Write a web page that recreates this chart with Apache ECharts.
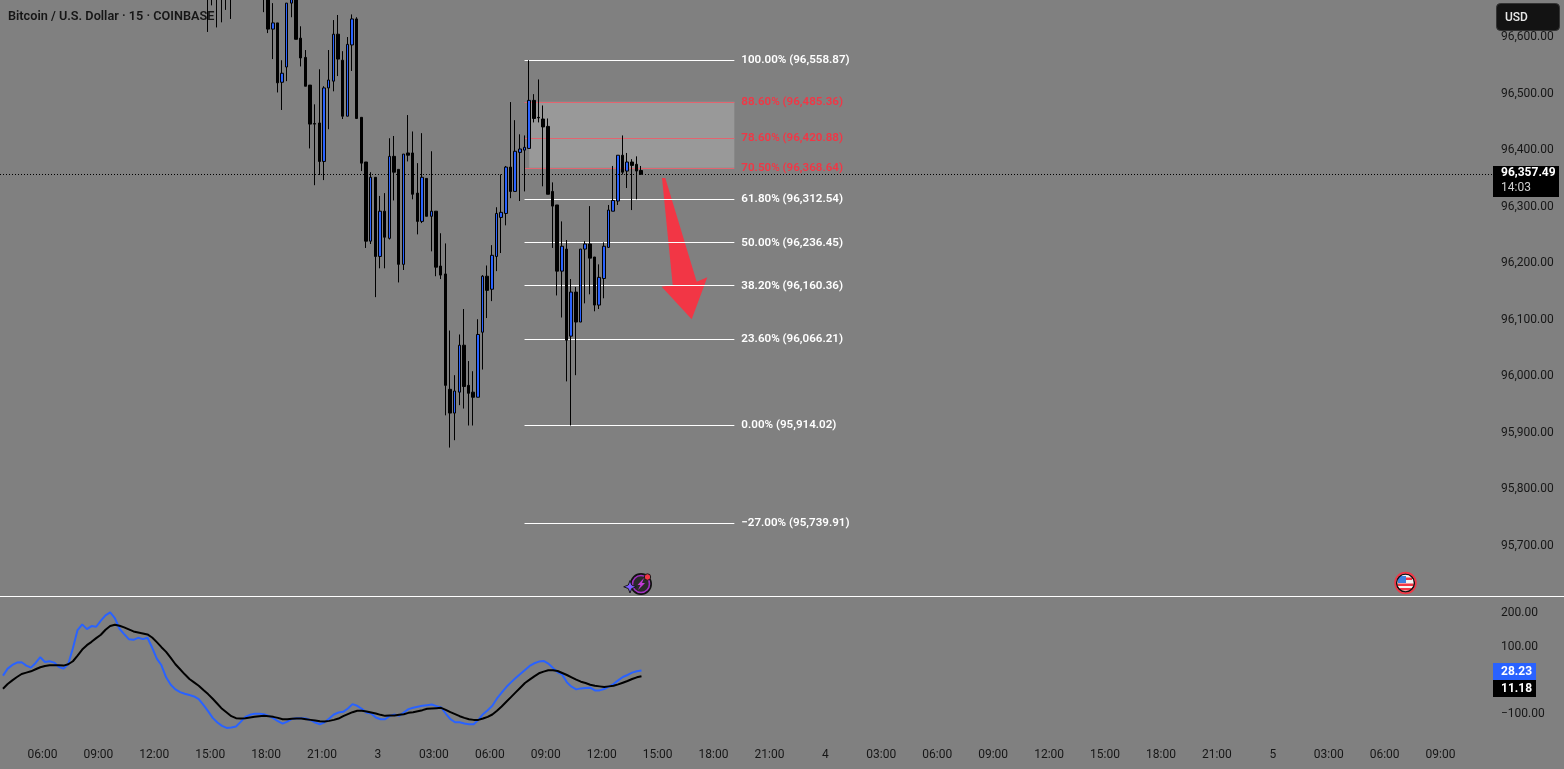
<!DOCTYPE html>
<html>
<head>
<meta charset="utf-8">
<title>Bitcoin / U.S. Dollar 15m</title>
<style>
  html, body { margin: 0; padding: 0; background: #808080; }
  #chart { width: 1564px; height: 769px; }
</style>
<script src="https://cdn.jsdelivr.net/npm/echarts@6/dist/echarts.min.js"></script>
</head>
<body>
<div id="chart"></div>
<script>
// Price candles, bar 44 onwards of the 15 minute series
const firstCandle = 44;
const opens = [96690,96690,96690,96690,96690,96690,96760,96760,96760,96760,96760,96760,
  96690,96690,96614,96625,96520,96547,96660,96700,96598,96564,96515,96447,96448,96380,96510,96522,96605,96559,
  96460,96586,96632,96458,96379,96239,96352,96212,96292,96244,96389,96366,96198,96395,96395,96324,96274,96350,
  96283,96292,96195,96181,95977,95935,95972,96055,95984,95972,95963,96078,96177,96154,96212,96281,96288,96370,
  96327,96396,96400,96403,96488,96458,96455,96442,96327,96303,96186,96225,96071,96149,96096,96225,96234,96211,
  96126,96173,96228,96292,96310,96391,96363,96379,96375,96364];
const closes = [96680,96680,96680,96680,96680,96680,96750,96750,96750,96750,96750,96750,
  96680,96614,96625,96519,96536,96660,96680,96596,96563,96513,96446,96446,96380,96510,96524,96605,96561,96460,
  96587,96632,96456,96377,96239,96352,96212,96292,96246,96389,96361,96198,96393,96391,96322,96274,96352,96283,
  96292,96193,96179,95984,95935,95974,96055,95982,95970,95963,96074,96177,96152,96214,96288,96290,96370,96327,
  96398,96402,96405,96488,96456,96457,96441,96322,96301,96186,96230,96064,96149,96096,96225,96234,96209,96126,
  96175,96230,96294,96311,96391,96361,96379,96373,96363,96357.49];
const lows = [96609,96656,96617,96626,96648,96632,96740,96740,96740,96740,96740,96740,
  96644,96607,96561,96502,96471,96522,96635,96596,96548,96513,96403,96338,96356,96347,96437,96504,96531,96455,
  96460,96540,96455,96363,96227,96234,96140,96191,96191,96242,96311,96166,96188,96380,96313,96251,96271,96283,
  96221,96177,96172,95931,95874,95887,95949,95943,95913,95913,95963,96012,96103,96133,96186,96218,96267,96315,
  96327,96310,96327,96403,96449,96449,96336,96322,96227,96143,96104,95991,95913,96002,96096,96129,96145,96115,
  96119,96138,96227,96292,96303,96357,96333,96294,96313,96356];
const highs = [96700,96700,96700,96700,96700,96700,96770,96770,96770,96770,96770,96770,
  96700,96700,96660,96625,96559,96660,96690,96710,96619,96577,96515,96481,96543,96513,96577,96630,96639,96575,
  96600,96640,96635,96458,96379,96361,96352,96319,96324,96421,96425,96366,96393,96462,96433,96377,96430,96350,
  96398,96292,96253,96235,96081,96002,96074,96119,96027,96009,96101,96179,96196,96232,96299,96357,96372,96485,
  96453,96428,96426,96559,96499,96525,96479,96456,96343,96303,96274,96241,96172,96158,96225,96239,96301,96211,
  96198,96237,96303,96372,96391,96426,96395,96384,96389,96372];

// Oscillator: one reading per bar from the first bar on screen
const fastLine = [13,34,45,52,53,43,37,51,68,54,56,52,39,34,48,95,149,166,152,161,159,177,193,202,185,153,137,122,120,126,122,126,97,64,44,8,
  -14,-28,-36,-41,-45,-49,-57,-74,-93,-113,-127,-137,-143,-142,-139,-125,-110,-104,-101,-101,-102,-107,-114,-123,-130,-124,-116,-114,-114,-115,-120,-127,-132,-126,-115,-103,-97,
  -95,-85,-72,-77,-86,-98,-100,-112,-117,-117,-107,-103,-107,-97,-87,-83,-80,-77,-75,-73,-78,-82,-100,-117,-126,-126,-130,-132,-132,-119,-102,-90,-77,-55,-38,-21,-7,
  6,18,30,42,50,55,57,49,36,23,16,-7,-20,-28,-25,-24,-23,-31,-31,-27,-20,-12,-1,9,15,22,26,28.23];
const slowLine = [-26,-12,-1,9,18,22,26,32,38,42,44,44,44,43,47,56,73,91,104,114,125,135,150,161,165,162,157,151,145,142,139,136,127,113,98,84,66,47,32,17,3,
  -7,-17,-30,-42,-56,-71,-86,-97,-108,-114,-115,-114,-112,-110,-108,-107,-108,-110,-113,-117,-117,-116,-115,-115,-117,-119,-121,-123,-124,-122,-119,-115,
  -108,-102,-96,-92,-92,-94,-97,-100,-104,-107,-106,-106,-104,-102,-98,-96,-93,-90,-86,-85,-84,-83,-89,-96,-102,-108,-113,-117,-119,-119,-115,-110,-103,-92,-79,-65,-51,-37,-23,-9,
  1,11,20,25,29,29,27,21,15,8,1,-5,-9,-14,-17,-19,-21,-19,-17,-13,-8,-3,3,8,11.18];

// Fibonacci retracement levels, anchored on the swing of bars 112 to 157
const fibStart = 112, fibEnd = 157, zoneStart = 113;
const fibRatios = ['100.00%','88.60%','78.60%','70.50%','61.80%','50.00%','38.20%','23.60%','0.00%','\u221227.00%'];
const fibPrices = [96558.87,96485.36,96420.88,96368.64,96312.54,96236.45,96160.36,96066.21,95914.02,95739.91];
const fibColors = ['#ffffff','#f23645','#f23645','#f23645','#ffffff','#ffffff','#ffffff','#ffffff','#ffffff','#ffffff'];
const fibLineColors = ['#ffffff','#e2646f','#e2646f','#e2646f','#ffffff','#ffffff','#ffffff','#ffffff','#ffffff','#ffffff'];

// Time scale: a label every 12 bars, first one on bar 9
const barCount = 320, firstLabelBar = 9, labelStep = 12;
const timeLabels = ['06:00','09:00','12:00','15:00','18:00','21:00','3','03:00','06:00','09:00','12:00','15:00','18:00','21:00',
  '4','03:00','06:00','09:00','12:00','15:00','18:00','21:00','5','03:00','06:00','09:00'];
const priceTicks = [95700,95800,95900,96000,96100,96200,96300,96400,96500,96600];
const oscTicks = [-100,100,200];
const lastPrice = 96357.49, lastFast = 28.23, lastSlow = 11.18;

const categories = [];
for (let i = 0; i < barCount; i++) {
  const k = (i - firstLabelBar) / labelStep;
  categories.push(Number.isInteger(k) && timeLabels[k] !== undefined ? timeLabels[k] : '');
}

// Bars before the first candle are off the top of the scale and stay empty
const candles = categories.map((_, i) => {
  const n = i - firstCandle;
  return n >= 0 && n < opens.length ? [opens[n], closes[n], lows[n], highs[n]] : ['-', '-', '-', '-'];
});
const fmt = v => v.toLocaleString('en-US', { minimumFractionDigits: 2, maximumFractionDigits: 2 });

const FONT = 'Roboto, "Noto Sans", sans-serif';
const INK = '#161616';
const RED = '#f23645';

const fibLines = fibPrices.map((p, i) => [
  {
    xAxis: fibStart, yAxis: p,
    lineStyle: { color: fibLineColors[i], width: 1, opacity: 1, type: 'solid' },
    label: {
      show: true, position: 'end', distance: 7, color: fibColors[i],
      fontFamily: FONT, fontSize: 11.6, fontWeight: 600,
      formatter: fibRatios[i] + ' (' + fmt(p) + ')'
    }
  },
  { xAxis: fibEnd, yAxis: p }
]);

const chart = echarts.init(document.getElementById('chart'), null, { renderer: 'canvas' });
chart.setOption({
  animation: false,
  backgroundColor: '#808080',
  textStyle: { fontFamily: FONT },
  title: {
    text: 'Bitcoin / U.S. Dollar \u00b7 15 \u00b7 COINBASE', left: 3, top: 5, z: 0,
    textStyle: { color: INK, fontFamily: FONT, fontSize: 12.7, fontWeight: 600 }
  },
  grid: [
    { left: -1.33, width: 1493.33, top: 0, height: 596 },
    { left: -1.33, width: 1493.33, top: 597, height: 148 }
  ],
  xAxis: [
    { type: 'category', gridIndex: 0, data: categories, boundaryGap: true, axisLine: { show: false }, axisTick: { show: false }, axisLabel: { show: false }, splitLine: { show: false } },
    { type: 'category', gridIndex: 1, data: categories, boundaryGap: true, axisLine: { show: false }, axisTick: { show: false }, splitLine: { show: false },
      axisLabel: { interval: 0, color: INK, fontFamily: FONT, fontSize: 12, margin: 4, padding: [0, 5, 0, 0], hideOverlap: false } }
  ],
  yAxis: [
    { type: 'value', gridIndex: 0, position: 'right', min: 95611.5, max: 96665.5, scale: true,
      axisLine: { show: false }, axisTick: { show: false }, splitLine: { show: false },
      axisLabel: { customValues: priceTicks, margin: 9, color: INK, fontFamily: FONT, fontSize: 12, padding: [0, 0, 4, 0], formatter: v => fmt(v) } },
    { type: 'value', gridIndex: 1, position: 'right', min: -194, max: 247.8, scale: true,
      axisLine: { show: false }, axisTick: { show: false }, splitLine: { show: false },
      axisLabel: { customValues: oscTicks, margin: 9, color: INK, fontFamily: FONT, fontSize: 12, formatter: v => fmt(v).replace('-', '\u2212') } }
  ],
  series: [
    {
      name: 'Fib', type: 'line', xAxisIndex: 0, yAxisIndex: 0, z: 1, data: [], silent: true, symbol: 'none',
      markArea: {
        silent: true, z: 1,
        itemStyle: { color: 'rgba(255,255,255,0.2)' },
        data: [[{ xAxis: zoneStart, yAxis: fibPrices[1] }, { xAxis: fibEnd, yAxis: fibPrices[3] }]]
      },
      markLine: { silent: true, z: 2, symbol: 'none', data: fibLines }
    },
    {
      name: 'BTCUSD', type: 'candlestick', xAxisIndex: 0, yAxisIndex: 0, z: 3, barWidth: 3, clip: true,
      itemStyle: { color: '#2962ff', color0: '#000000', borderColor: '#000000', borderColor0: '#000000', borderWidth: 1 },
      data: candles,
      markLine: {
        silent: true, z: 4, symbol: 'none', label: { show: false },
        lineStyle: { color: '#000000', width: 1, type: [1, 2] },
        data: [{ yAxis: lastPrice }]
      }
    },
    {
      name: 'Fast', type: 'line', xAxisIndex: 1, yAxisIndex: 1, symbol: 'none', smooth: false,
      lineStyle: { color: '#2962ff', width: 2 }, data: fastLine
    },
    {
      name: 'Slow', type: 'line', xAxisIndex: 1, yAxisIndex: 1, symbol: 'none', smooth: false,
      lineStyle: { color: '#000000', width: 2 }, data: slowLine
    }
  ]
});

// Price-scale tags, pane divider, drawn arrow and event badges
const tag = (x, y, w, h, fill, r) => ({ type: 'rect', shape: { x, y, width: w, height: h, r: r || 0 }, style: { fill } });
const label = (x, y, text, fill, weight) => ({
  type: 'text', x, y,
  style: { text, fill, font: (weight || 400) + ' 12px ' + FONT, verticalAlign: 'middle', align: 'left' }
});
const priceY = chart.convertToPixel({ yAxisIndex: 0 }, lastPrice);

chart.setOption({
  graphic: [
    { type: 'line', shape: { x1: 0, y1: 596.5, x2: 1564, y2: 596.5 }, style: { stroke: '#ffffff', lineWidth: 1 } },
    // hand-drawn arrow
    { type: 'polygon', shape: { points: [[662, 178], [665.3, 178], [696.7, 281.7], [707.3, 277.3], [691.7, 319.3], [661.7, 286.7], [672.7, 285]] }, style: { fill: RED } },
    // USD button
    { type: 'rect', shape: { x: 1496.5, y: 3.5, width: 63, height: 27, r: 4 }, style: { fill: '#131313', stroke: '#333333', lineWidth: 1 } },
    label(1505, 17.5, 'USD', '#e8e8e8', 500),
    // last price tag
    tag(1493, 166, 66, 31, '#000000'),
    label(1501, priceY - 1, fmt(lastPrice), '#ffffff', 700),
    label(1501, priceY + 13.5, '14:03', '#d0d0d0', 400),
    // oscillator tags
    tag(1493, 663, 43, 17, '#2962ff'),
    label(1501, 671.5, fmt(lastFast), '#ffffff', 700),
    tag(1493, 680, 43, 17, '#000000'),
    label(1501, 688.5, fmt(lastSlow), '#ffffff', 700),
    // earnings-style event badge
    { type: 'circle', shape: { cx: 641, cy: 584, r: 10 }, style: { fill: '#2a2a2a', stroke: '#111111', lineWidth: 2 } },
    { type: 'circle', shape: { cx: 641, cy: 584, r: 8.5 }, style: { fill: 'none', stroke: '#a02fc0', lineWidth: 1.6 } },
    { type: 'polygon', shape: { points: [[644, 578], [637.5, 585], [640.5, 585], [638, 590], [645, 583], [642, 583]] }, style: { fill: '#c23ad6' } },
    { type: 'circle', shape: { cx: 647.5, cy: 577, r: 3.2 }, style: { fill: '#f23645', stroke: '#1a1a1a', lineWidth: 1 } },
    { type: 'polygon', shape: { points: [[630, 580.5], [631.7, 585], [636.3, 586.8], [631.7, 588.6], [630, 593], [628.3, 588.6], [623.7, 586.8], [628.3, 585]] }, style: { fill: '#7c5cff', stroke: '#1a1a1a', lineWidth: 1 } },
    // US flag badge
    { type: 'circle', shape: { cx: 1405.5, cy: 583, r: 8.5 }, style: { fill: '#f4f4f4' } },
    { type: 'rect', shape: { x: 1397.5, y: 583.5, width: 16, height: 2.5 }, style: { fill: '#f23645' } },
    { type: 'rect', shape: { x: 1399, y: 588, width: 13, height: 2.5 }, style: { fill: '#f23645' } },
    { type: 'rect', shape: { x: 1406, y: 577.5, width: 6, height: 2.5 }, style: { fill: '#f23645' } },
    { type: 'rect', shape: { x: 1398, y: 576, width: 8, height: 7 }, style: { fill: '#3d7fe0' } },
    { type: 'circle', shape: { cx: 1405.5, cy: 583, r: 9 }, style: { fill: 'none', stroke: '#111111', lineWidth: 1.6 } },
    { type: 'circle', shape: { cx: 1405.5, cy: 583, r: 10.4 }, style: { fill: 'none', stroke: '#f23645', lineWidth: 1.6 } }
  ]
});
</script>
</body>
</html>
